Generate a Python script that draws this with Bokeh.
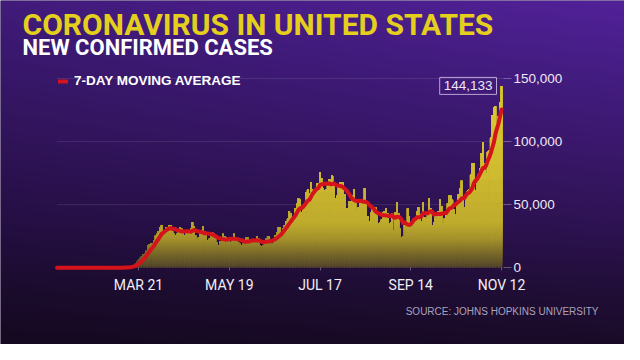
import numpy as np
import pandas as pd
from bokeh.plotting import figure
from bokeh.models import (Range1d, FixedTicker, NumeralTickFormatter, Label,
                          Legend, LegendItem, ColumnDataSource, LinearAxis)
from bokeh.embed import file_html
from bokeh.resources import INLINE

# ---------------- data ----------------
title_text = "CORONAVIRUS IN UNITED STATES"
subtitle_text = "NEW CONFIRMED CASES"
source_text = "SOURCE: JOHNS HOPKINS UNIVERSITY"
legend_label = "7-DAY MOVING AVERAGE"
end_date = "2020-11-12"

cases_jan_feb = [0, 0, 0, 0, 1, 0, 0, 0, 0, 1, 0, 0, 0, 0, 1, 0, 0, 0, 0, 0,
                 0, 0, 0, 0, 0, 2, 0, 0, 1, 0, 0, 2, 3, 1]
cases_mar = [20, 25, 24, 30, 70, 80, 110, 130, 190, 290, 270, 500, 640, 700, 980,
             1800, 2300, 3500, 5000, 6500, 7900, 9300, 11000, 11200, 13500, 17700,
             18500, 19500, 19300, 21500, 25400]
cases_apr = [27000, 29000, 32000, 34000, 25500, 29000, 32000, 32000, 34000, 34000,
             29000, 27000, 26000, 27000, 30000, 32000, 31000, 29000, 26000, 28000,
             27000, 28000, 31000, 36000, 33000, 26000, 23000, 24000, 27000, 29000]
cases_may = [33000, 29000, 26000, 22000, 23000, 25000, 28000, 27000, 25000, 20000,
             18000, 21000, 21000, 27000, 25000, 24000, 21000, 22000, 20000, 22000,
             27000, 24000, 23000, 20000, 19000, 18000, 19000, 22000, 24000, 24000,
             20000]
cases_jun = [22000, 21000, 20000, 21000, 25000, 23000, 18000, 17000, 18000, 21000,
             23000, 25000, 25000, 19000, 19000, 23000, 26000, 28000, 32000, 32000,
             27000, 31000, 34000, 37000, 39000, 45000, 43000, 40000, 40000, 47000]
cases_jul = [51000, 55000, 54000, 44000, 47000, 50000, 60000, 62000, 59000, 68000,
             62000, 58000, 62000, 67000, 67000, 76000, 71000, 63000, 61000, 62000,
             66000, 70000, 70000, 73000, 66000, 55000, 57000, 65000, 68000, 68000,
             68000]
cases_aug = [58000, 47000, 47000, 53000, 53000, 57000, 62000, 53000, 46000, 48000,
             52000, 54000, 51000, 63000, 51000, 41000, 37000, 44000, 47000, 45000,
             48000, 45000, 35000, 36000, 38000, 44000, 45000, 47000, 43000, 35000,
             36000]
cases_sep = [43000, 30000, 44000, 52000, 43000, 31000, 24000, 25000, 34000, 36000,
             47000, 41000, 34000, 35000, 39000, 39000, 45000, 48000, 42000, 37000,
             52000, 40000, 39000, 44000, 55000, 47000, 34000, 36000, 43000, 39000]
cases_oct = [45000, 54000, 49000, 35000, 39000, 43000, 51000, 57000, 57000, 54000,
             46000, 42000, 52000, 58000, 63000, 69000, 56000, 48000, 58000, 61000,
             62000, 74000, 83000, 83000, 61000, 67000, 74000, 79000, 91000, 99000,
             83000]
cases_nov = [75000, 92000, 93000, 103000, 121000, 127000, 128000, 107000, 120000,
             131000, 144133]

tick_dates = ["2020-03-21", "2020-05-19", "2020-07-17", "2020-09-14", "2020-11-12"]
tick_labels = ["MAR 21", "MAY 19", "JUL 17", "SEP 14", "NOV 12"]
y_ticks = [0, 50000, 100000, 150000]

cases = (cases_jan_feb + cases_mar + cases_apr + cases_may + cases_jun + cases_jul
         + cases_aug + cases_sep + cases_oct + cases_nov)
dates = pd.date_range(end=end_date, periods=len(cases), freq="D")
avg = pd.Series(cases, dtype=float).rolling(7, min_periods=1).mean()

# ---------------- layout ----------------
W, H = 624, 344
DAY = 86400000.0
PX_PER_DAY = 1.538
END_PX = 501.0           # x pixel of last day
ZERO_PX = 267.3          # y pixel (from top) of value 0
PX_PER_CASE = 1.262 / 1000.0

end_ms = pd.Timestamp(end_date).value / 1e6
x0 = end_ms - END_PX / PX_PER_DAY * DAY
x1 = end_ms + (W - END_PX) / PX_PER_DAY * DAY
y1 = ZERO_PX / PX_PER_CASE
y0 = -(H - ZERO_PX) / PX_PER_CASE
yaxis_loc = end_ms + 2.0 / PX_PER_DAY * DAY

p = figure(width=W, height=H, x_axis_type=None, y_axis_type=None,
           x_range=Range1d(x0, x1), y_range=Range1d(y0, y1),
           output_backend="svg", toolbar_location=None,
           min_border=0, min_border_left=0, min_border_right=0,
           min_border_top=0, min_border_bottom=0,
           outline_line_color=None, border_fill_color="#2a1248",
           background_fill_color="#2a1248")

# background gradient (style only)
ref_y = np.arange(H) + 8.0
stops = [0, 70, 150, 230, 300, 360]
R = np.interp(ref_y, stops, [76, 64, 54, 42, 30, 22])
G = np.interp(ref_y, stops, [31, 27, 22, 17, 13, 10])
B = np.interp(ref_y, stops, [142, 122, 100, 76, 50, 34])
hx = 0.88 + 0.22 * (np.arange(W) / W)
img = np.zeros((H, W, 4), dtype=np.uint8)
img[..., 0] = np.clip(R[:, None] * hx[None, :], 0, 255)
img[..., 1] = np.clip(G[:, None] * hx[None, :], 0, 255)
img[..., 2] = np.clip(B[:, None] * hx[None, :], 0, 255)
img[..., 3] = 255
img = img[::-1].copy()
p.image_rgba(image=[img.view(np.uint32).reshape(H, W)], x=x0, y=y0,
             dw=x1 - x0, dh=y1 - y0)

# faint grid lines
gl = y_ticks[1:]
p.segment(x0=[dates[0]] * len(gl), x1=[yaxis_loc] * len(gl), y0=gl, y1=gl,
          line_color="white", line_alpha=0.10, line_width=1)

# bars: vertical colour gradient drawn as stacked thin bands (style only)
src = ColumnDataSource(dict(date=dates, cases=cases, avg=avg))
bw = DAY * 1.0
p.vbar(x="date", top="cases", bottom=0, width=bw, source=src,
       fill_color="#56482b", line_color=None)
g_stops = [0, 10000, 22000, 35000, 70000, 130000]
g_r = [86, 120, 165, 192, 208, 220]
g_g = [72, 104, 146, 172, 188, 200]
g_b = [43, 42, 44, 46, 48, 52]
band_levels = list(np.arange(1500, 40000, 1500)) + [45000, 52000, 60000, 70000,
                                                     82000, 96000, 112000]
for lvl in band_levels:
    col = "#%02x%02x%02x" % (int(np.interp(lvl, g_stops, g_r)),
                             int(np.interp(lvl, g_stops, g_g)),
                             int(np.interp(lvl, g_stops, g_b)))
    bsrc = ColumnDataSource(dict(date=dates, cases=cases,
                                 bot=[min(c, lvl) for c in cases]))
    p.vbar(x="date", top="cases", bottom="bot", width=bw, source=bsrc,
           fill_color=col, line_color=None)

line_r = p.line(x="date", y="avg", source=src, line_color="#d5131b",
                line_width=4, line_join="round", line_cap="round")

# axes
tick_ms = [pd.Timestamp(d).value / 1e6 for d in tick_dates]
xaxis = LinearAxis(fixed_location=0, ticker=FixedTicker(ticks=tick_ms),
                   major_label_overrides={t: l for t, l in zip(tick_ms, tick_labels)},
                   axis_line_color=None, major_tick_line_color="white",
                   major_tick_line_alpha=0.3, major_tick_in=0, major_tick_out=3,
                   minor_tick_line_color=None, major_label_standoff=6,
                   major_label_text_color="#f2eef6",
                   major_label_text_font="Roboto",
                   major_label_text_font_size="14px")
p.add_layout(xaxis, "below")

yaxis = LinearAxis(fixed_location=yaxis_loc, ticker=FixedTicker(ticks=y_ticks),
                   formatter=NumeralTickFormatter(format="0,0"),
                   axis_line_color=None, major_tick_in=0, major_tick_out=8,
                   major_tick_line_color="white", major_tick_line_alpha=0.3,
                   minor_tick_line_color=None, major_label_standoff=2,
                   major_label_text_color="#eee8f4",
                   major_label_text_font="Liberation Sans",
                   major_label_text_font_size="13.5px")
p.add_layout(yaxis, "right")

# legend
legend = Legend(items=[LegendItem(label=legend_label, renderers=[line_r])],
                location=(58, 256), background_fill_alpha=0,
                border_line_color=None, padding=0, margin=0,
                glyph_width=10, glyph_height=14, label_height=14,
                label_standoff=6, label_text_color="white",
                label_text_font="Liberation Sans", label_text_font_style="bold",
                label_text_font_size="13.5px")
p.add_layout(legend)

# annotations
p.add_layout(Label(x=22, y=320, x_units="screen", y_units="screen", text=title_text,
                   text_baseline="alphabetic", text_font="Roboto",
                   text_font_style="bold", text_font_size="30px",
                   text_color="#e5cf1d"))
p.add_layout(Label(x=22, y=297, x_units="screen", y_units="screen", text=subtitle_text,
                   text_baseline="alphabetic", text_font="Roboto",
                   text_font_style="bold", text_font_size="22px",
                   text_color="white"))
p.add_layout(Label(x=598, y=33, x_units="screen", y_units="screen", text=source_text,
                   text_align="right", text_baseline="middle",
                   text_font="Liberation Sans", text_font_size="10px",
                   text_color="#aaa2bc"))
p.add_layout(Label(x=dates[-1], y=cases[-1], text=f"{cases[-1]:,}",
                   x_offset=-5, text_align="right", text_baseline="middle",
                   text_font="Liberation Sans", text_font_size="13.5px",
                   text_color="#ede6f5", border_line_color="#b9a6d6",
                   border_line_width=1, padding=4))

open("out.html", "w").write(file_html(p, INLINE))
